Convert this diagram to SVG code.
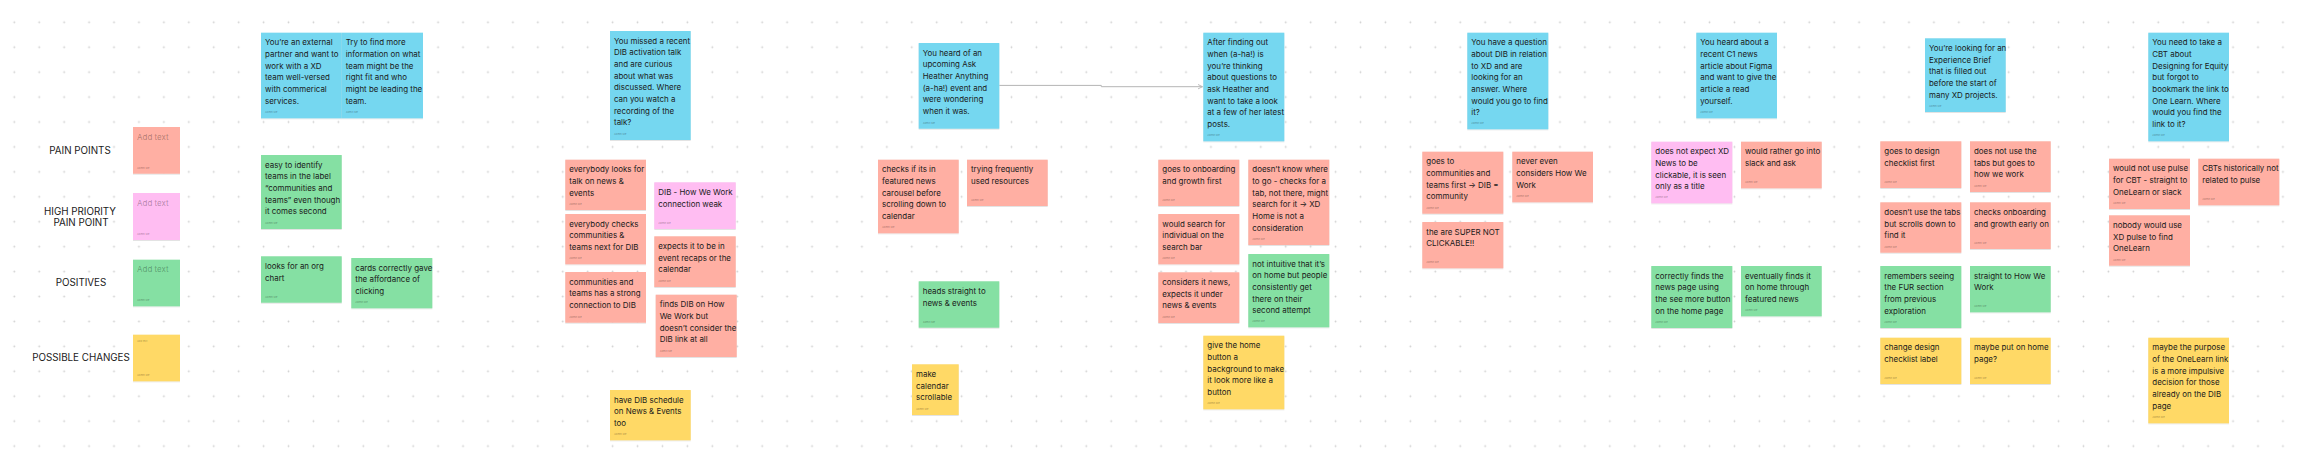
<svg xmlns="http://www.w3.org/2000/svg" width="2304" height="462" viewBox="0 0 2304 462">
<defs>
<pattern id="dots" patternUnits="userSpaceOnUse" x="1.83" y="9.83" width="24.93" height="24.93"><circle cx="12.47" cy="12.47" r="0.9" fill="#cfcfcf"/></pattern>
<filter id="sh" x="-10%" y="-10%" width="120%" height="130%"><feDropShadow dx="0" dy="0.6" stdDeviation="0.6" flood-color="#000" flood-opacity="0.18"/></filter>
<marker id="arr" viewBox="0 0 6 6" refX="5.5" refY="3" markerWidth="6" markerHeight="6" orient="auto" markerUnits="userSpaceOnUse"><path d="M1 0.8 L5.5 3 L1 5.2" fill="none" stroke="#b5b5b5" stroke-width="0.9"/></marker>
</defs>
<style>
.bl{fill:#75D7F0;filter:url(#sh)}
.rd{fill:#FFAFA3;filter:url(#sh)}
.gr{fill:#85E0A3;filter:url(#sh)}
.pk{fill:#FFBDF2;filter:url(#sh)}
.yl{fill:#FFD966;filter:url(#sh)}
.t{font-family:Inter,"Noto Sans",sans-serif;font-size:7.95px;fill:#1a1a1a}
.a{font-family:Inter,"Noto Sans",sans-serif;font-size:2.6px;fill:#000;fill-opacity:0.4}
.ph{font-family:Inter,"Noto Sans",sans-serif;font-size:8px;fill:#000;fill-opacity:0.3}
.lbl{font-family:Inter,"Noto Sans",sans-serif;font-size:9.8px;fill:#1a1a1a;text-anchor:middle}
.cn{fill:none;stroke:#b5b5b5;stroke-width:1}
</style>
<rect width="2304" height="462" fill="#ffffff"/>
<rect width="2304" height="462" fill="url(#dots)"/>

<g id="labels">
<text class="lbl" x="80" y="153.5">PAIN POINTS</text>
<text class="lbl" x="80" y="215">HIGH PRIORITY</text>
<text class="lbl" x="81" y="226.3">PAIN POINT</text>
<text class="lbl" x="81" y="286.3">POSITIVES</text>
<text class="lbl" x="81" y="361">POSSIBLE CHANGES</text>
</g>

<g id="connectors">
<path class="cn" d="M999.3 85.4 H1101.3 V86.7 H1202.5" marker-end="url(#arr)"/>
</g>

<g id="ph-pain"><rect class="rd" x="133" y="127" width="47" height="46.7"/><text class="ph" x="137" y="139.6">Add text</text><text class="a" x="137" y="168.7">Admin Me</text></g>
<g id="ph-high"><rect class="pk" x="133" y="193" width="47" height="47"/><text class="ph" x="137" y="205.6">Add text</text><text class="a" x="137" y="235">Admin Me</text></g>
<g id="ph-pos"><rect class="gr" x="133" y="259.7" width="47" height="46.6"/><text class="ph" x="137" y="272.3">Add text</text><text class="a" x="137" y="301.3">Admin Me</text></g>
<g id="ph-chg"><rect class="yl" x="133" y="334.7" width="47" height="46.6"/><text class="a" x="137" y="341.6">Add text</text><text class="a" x="137" y="376.3">Admin Me</text></g>

<g id="b1"><rect class="bl" x="261" y="32.7" width="80.7" height="85.6"/><text class="t"><tspan x="265" y="45.2">You’re an external</tspan><tspan x="265" y="56.9">partner and want to</tspan><tspan x="265" y="68.5">work with a XD</tspan><tspan x="265" y="80.2">team well-versed</tspan><tspan x="265" y="91.9">with commerical</tspan><tspan x="265" y="103.6">services.</tspan></text><text class="a" x="265" y="113.3">Admin Me</text></g>
<g id="b2"><rect class="bl" x="341.7" y="32.7" width="81.3" height="85.6"/><text class="t"><tspan x="345.7" y="45.2">Try to find more</tspan><tspan x="345.7" y="56.9">information on what</tspan><tspan x="345.7" y="68.5">team might be the</tspan><tspan x="345.7" y="80.2">right fit and who</tspan><tspan x="345.7" y="91.9">might be leading the</tspan><tspan x="345.7" y="103.6">team.</tspan></text><text class="a" x="345.7" y="113.3">Admin Me</text></g>
<g id="g1"><rect class="gr" x="261" y="155" width="80.7" height="74"/><text class="t"><tspan x="265" y="167.5">easy to identify</tspan><tspan x="265" y="179.2">teams in the label</tspan><tspan x="265" y="190.8">“communities and</tspan><tspan x="265" y="202.5">teams” even though</tspan><tspan x="265" y="214.2">it comes second</tspan></text><text class="a" x="265" y="224">Admin Me</text></g>
<g id="g2"><rect class="gr" x="261" y="256.3" width="80.7" height="46.4"/><text class="t"><tspan x="265" y="268.8">looks for an org</tspan><tspan x="265" y="280.5">chart</tspan></text><text class="a" x="265" y="297.7">Admin Me</text></g>
<g id="g3"><rect class="gr" x="351.3" y="258" width="81" height="50.3"/><text class="t"><tspan x="355.3" y="270.5">cards correctly gave</tspan><tspan x="355.3" y="282.2">the affordance of</tspan><tspan x="355.3" y="293.8">clicking</tspan></text><text class="a" x="355.3" y="303.3">Admin Me</text></g>

<g id="s1"><rect class="rd" x="565.3" y="159.7" width="80.7" height="50.3"/><text class="t"><tspan x="569.3" y="172.2">everybody looks for</tspan><tspan x="569.3" y="183.9">talk on news &amp;</tspan><tspan x="569.3" y="195.5">events</tspan></text><text class="a" x="569.3" y="205">Admin Me</text></g>
<g id="s2"><rect class="rd" x="565.3" y="214" width="80.7" height="50.3"/><text class="t"><tspan x="569.3" y="226.5">everybody checks</tspan><tspan x="569.3" y="238.2">communities &amp;</tspan><tspan x="569.3" y="249.8">teams next for DIB</tspan></text><text class="a" x="569.3" y="259.3">Admin Me</text></g>
<g id="s3"><rect class="rd" x="565.3" y="272" width="80.7" height="50.7"/><text class="t"><tspan x="569.3" y="284.5">communities and</tspan><tspan x="569.3" y="296.2">teams has a strong</tspan><tspan x="569.3" y="307.8">connection to DIB</tspan></text><text class="a" x="569.3" y="317.7">Admin Me</text></g>
<g id="b3"><rect class="bl" x="610" y="31" width="80.7" height="109"/><text class="t"><tspan x="614" y="43.5">You missed a recent</tspan><tspan x="614" y="55.2">DIB activation talk</tspan><tspan x="614" y="66.8">and are curious</tspan><tspan x="614" y="78.5">about what was</tspan><tspan x="614" y="90.2">discussed. Where</tspan><tspan x="614" y="101.9">can you watch a</tspan><tspan x="614" y="113.5">recording of the</tspan><tspan x="614" y="125.2">talk?</tspan></text><text class="a" x="614" y="135">Admin Me</text></g>
<g id="k1"><rect class="pk" x="654.3" y="182.3" width="81.4" height="46.7"/><text class="t"><tspan x="658.3" y="194.8">DIB - How We Work</tspan><tspan x="658.3" y="206.5">connection weak</tspan></text><text class="a" x="658.3" y="224">Admin Me</text></g>
<g id="s4"><rect class="rd" x="654.3" y="236.3" width="81.4" height="50.7"/><text class="t"><tspan x="658.3" y="248.8">expects it to be in</tspan><tspan x="658.3" y="260.5">event recaps or the</tspan><tspan x="658.3" y="272.1">calendar</tspan></text><text class="a" x="658.3" y="282">Admin Me</text></g>
<g id="s5"><rect class="rd" x="655.7" y="294.7" width="81" height="62.3"/><text class="t"><tspan x="659.7" y="307.2">finds DIB on How</tspan><tspan x="659.7" y="318.9">We Work but</tspan><tspan x="659.7" y="330.5">doesn’t consider the</tspan><tspan x="659.7" y="342.2">DIB link at all</tspan></text><text class="a" x="659.7" y="352">Admin Me</text></g>
<g id="y1"><rect class="yl" x="610" y="390" width="80.7" height="50.3"/><text class="t"><tspan x="614" y="402.5">have DIB schedule</tspan><tspan x="614" y="414.2">on News &amp; Events</tspan><tspan x="614" y="425.8">too</tspan></text><text class="a" x="614" y="435.3">Admin Me</text></g>

<g id="b4"><rect class="bl" x="918.7" y="43" width="80.6" height="85.7"/><text class="t"><tspan x="922.7" y="55.5">You heard of an</tspan><tspan x="922.7" y="67.2">upcoming Ask</tspan><tspan x="922.7" y="78.8">Heather Anything</tspan><tspan x="922.7" y="90.5">(a-ha!) event and</tspan><tspan x="922.7" y="102.2">were wondering</tspan><tspan x="922.7" y="113.9">when it was.</tspan></text><text class="a" x="922.7" y="123.7">Admin Me</text></g>
<g id="s6"><rect class="rd" x="878" y="159.7" width="80.7" height="73.6"/><text class="t"><tspan x="882" y="172.2">checks if its in</tspan><tspan x="882" y="183.9">featured news</tspan><tspan x="882" y="195.5">carousel before</tspan><tspan x="882" y="207.2">scrolling down to</tspan><tspan x="882" y="218.9">calendar</tspan></text><text class="a" x="882" y="228.3">Admin Me</text></g>
<g id="s7"><rect class="rd" x="967" y="159.7" width="80.7" height="46.3"/><text class="t"><tspan x="971" y="172.2">trying frequently</tspan><tspan x="971" y="183.9">used resources</tspan></text><text class="a" x="971" y="201">Admin Me</text></g>
<g id="g4"><rect class="gr" x="918.7" y="281.3" width="80.6" height="46.4"/><text class="t"><tspan x="922.7" y="293.8">heads straight to</tspan><tspan x="922.7" y="305.5">news &amp; events</tspan></text><text class="a" x="922.7" y="322.7">Admin Me</text></g>
<g id="y2"><rect class="yl" x="912" y="364.3" width="46.7" height="50.7"/><text class="t"><tspan x="916" y="376.8">make</tspan><tspan x="916" y="388.5">calendar</tspan><tspan x="916" y="400.1">scrollable</tspan></text><text class="a" x="916" y="410">Admin Me</text></g>

<g id="b5"><rect class="bl" x="1203.3" y="32.7" width="81" height="108.6"/><text class="t"><tspan x="1207.3" y="45.2">After finding out</tspan><tspan x="1207.3" y="56.9">when (a-ha!) is</tspan><tspan x="1207.3" y="68.5">you’re thinking</tspan><tspan x="1207.3" y="80.2">about questions to</tspan><tspan x="1207.3" y="91.9">ask Heather and</tspan><tspan x="1207.3" y="103.6">want to take a look</tspan><tspan x="1207.3" y="115.2">at a few of her latest</tspan><tspan x="1207.3" y="126.9">posts.</tspan></text><text class="a" x="1207.3" y="136.3">Admin Me</text></g>
<g id="s8"><rect class="rd" x="1158.3" y="159.7" width="81" height="46.3"/><text class="t"><tspan x="1162.3" y="172.2">goes to onboarding</tspan><tspan x="1162.3" y="183.9">and growth first</tspan></text><text class="a" x="1162.3" y="201">Admin Me</text></g>
<g id="s9"><rect class="rd" x="1158.3" y="214" width="81" height="50.3"/><text class="t"><tspan x="1162.3" y="226.5">would search for</tspan><tspan x="1162.3" y="238.2">individual on the</tspan><tspan x="1162.3" y="249.8">search bar</tspan></text><text class="a" x="1162.3" y="259.3">Admin Me</text></g>
<g id="s10"><rect class="rd" x="1158.3" y="272.3" width="81" height="50.7"/><text class="t"><tspan x="1162.3" y="284.8">considers it news,</tspan><tspan x="1162.3" y="296.5">expects it under</tspan><tspan x="1162.3" y="308.1">news &amp; events</tspan></text><text class="a" x="1162.3" y="318">Admin Me</text></g>
<g id="s11"><rect class="rd" x="1248.3" y="159.7" width="81" height="85.3"/><text class="t"><tspan x="1252.3" y="172.2">doesn’t know where</tspan><tspan x="1252.3" y="183.9">to go - checks for a</tspan><tspan x="1252.3" y="195.5">tab, not there, might</tspan><tspan x="1252.3" y="207.2">search for it → XD</tspan><tspan x="1252.3" y="218.9">Home is not a</tspan><tspan x="1252.3" y="230.6">consideration</tspan></text><text class="a" x="1252.3" y="240">Admin Me</text></g>
<g id="g5"><rect class="gr" x="1248.3" y="254" width="81" height="73.3"/><text class="t"><tspan x="1252.3" y="266.5">not intuitive that it’s</tspan><tspan x="1252.3" y="278.2">on home but people</tspan><tspan x="1252.3" y="289.8">consistently get</tspan><tspan x="1252.3" y="301.5">there on their</tspan><tspan x="1252.3" y="313.2">second attempt</tspan></text><text class="a" x="1252.3" y="322.3">Admin Me</text></g>
<g id="y3"><rect class="yl" x="1203.3" y="335.7" width="81" height="73.6"/><text class="t"><tspan x="1207.3" y="348.2">give the home</tspan><tspan x="1207.3" y="359.9">button a</tspan><tspan x="1207.3" y="371.5">background to make</tspan><tspan x="1207.3" y="383.2">it look more like a</tspan><tspan x="1207.3" y="394.9">button</tspan></text><text class="a" x="1207.3" y="404.3">Admin Me</text></g>

<g id="s12"><rect class="rd" x="1422.3" y="151.7" width="81" height="62"/><text class="t"><tspan x="1426.3" y="164.2">goes to</tspan><tspan x="1426.3" y="175.9">communities and</tspan><tspan x="1426.3" y="187.5">teams first → DIB =</tspan><tspan x="1426.3" y="199.2">community</tspan></text><text class="a" x="1426.3" y="208.7">Admin Me</text></g>
<g id="s13"><rect class="rd" x="1422.3" y="222" width="81" height="46.3"/><text class="t"><tspan x="1426.3" y="234.5">the are SUPER NOT</tspan><tspan x="1426.3" y="246.2">CLICKABLE!!</tspan></text><text class="a" x="1426.3" y="263.3">Admin Me</text></g>
<g id="b6"><rect class="bl" x="1467.3" y="32.7" width="81" height="96.6"/><text class="t"><tspan x="1471.3" y="45.2">You have a question</tspan><tspan x="1471.3" y="56.9">about DIB in relation</tspan><tspan x="1471.3" y="68.5">to XD and are</tspan><tspan x="1471.3" y="80.2">looking for an</tspan><tspan x="1471.3" y="91.9">answer. Where</tspan><tspan x="1471.3" y="103.6">would you go to find</tspan><tspan x="1471.3" y="115.2">it?</tspan></text><text class="a" x="1471.3" y="124.3">Admin Me</text></g>
<g id="s14"><rect class="rd" x="1512.3" y="151.7" width="80.7" height="50.6"/><text class="t"><tspan x="1516.3" y="164.2">never even</tspan><tspan x="1516.3" y="175.9">considers How We</tspan><tspan x="1516.3" y="187.5">Work</tspan></text><text class="a" x="1516.3" y="197.3">Admin Me</text></g>

<g id="b7"><rect class="bl" x="1696.3" y="32.7" width="80.7" height="85.6"/><text class="t"><tspan x="1700.3" y="45.2">You heard about a</tspan><tspan x="1700.3" y="56.9">recent C1 news</tspan><tspan x="1700.3" y="68.5">article about Figma</tspan><tspan x="1700.3" y="80.2">and want to give the</tspan><tspan x="1700.3" y="91.9">article a read</tspan><tspan x="1700.3" y="103.6">yourself.</tspan></text><text class="a" x="1700.3" y="113.3">Admin Me</text></g>
<g id="k2"><rect class="pk" x="1651.3" y="141.7" width="81" height="61.6"/><text class="t"><tspan x="1655.3" y="154.2">does not expect XD</tspan><tspan x="1655.3" y="165.9">News to be</tspan><tspan x="1655.3" y="177.5">clickable, it is seen</tspan><tspan x="1655.3" y="189.2">only as a title</tspan></text><text class="a" x="1655.3" y="198.3">Admin Me</text></g>
<g id="s15"><rect class="rd" x="1741" y="141.7" width="80.7" height="46.6"/><text class="t"><tspan x="1745" y="154.2">would rather go into</tspan><tspan x="1745" y="165.9">slack and ask</tspan></text><text class="a" x="1745" y="183.3">Admin Me</text></g>
<g id="g6"><rect class="gr" x="1651.3" y="266" width="81" height="62"/><text class="t"><tspan x="1655.3" y="278.5">correctly finds the</tspan><tspan x="1655.3" y="290.2">news page using</tspan><tspan x="1655.3" y="301.8">the see more button</tspan><tspan x="1655.3" y="313.5">on the home page</tspan></text><text class="a" x="1655.3" y="323">Admin Me</text></g>
<g id="g7"><rect class="gr" x="1741" y="266" width="80.7" height="50.3"/><text class="t"><tspan x="1745" y="278.5">eventually finds it</tspan><tspan x="1745" y="290.2">on home through</tspan><tspan x="1745" y="301.8">featured news</tspan></text><text class="a" x="1745" y="311.3">Admin Me</text></g>

<g id="b8"><rect class="bl" x="1925" y="38.3" width="80.7" height="73.7"/><text class="t"><tspan x="1929" y="50.8">You’re looking for an</tspan><tspan x="1929" y="62.5">Experience Brief</tspan><tspan x="1929" y="74.1">that is filled out</tspan><tspan x="1929" y="85.8">before the start of</tspan><tspan x="1929" y="97.5">many XD projects.</tspan></text><text class="a" x="1929" y="107">Admin Me</text></g>
<g id="s16"><rect class="rd" x="1880.3" y="141.3" width="81" height="46.7"/><text class="t"><tspan x="1884.3" y="153.8">goes to design</tspan><tspan x="1884.3" y="165.5">checklist first</tspan></text><text class="a" x="1884.3" y="183">Admin Me</text></g>
<g id="s17"><rect class="rd" x="1970" y="141.3" width="80.7" height="50.7"/><text class="t"><tspan x="1974" y="153.8">does not use the</tspan><tspan x="1974" y="165.5">tabs but goes to</tspan><tspan x="1974" y="177.1">how we work</tspan></text><text class="a" x="1974" y="187">Admin Me</text></g>
<g id="s18"><rect class="rd" x="1880.3" y="202.3" width="81" height="50.4"/><text class="t"><tspan x="1884.3" y="214.8">doesn’t use the tabs</tspan><tspan x="1884.3" y="226.5">but scrolls down to</tspan><tspan x="1884.3" y="238.1">find it</tspan></text><text class="a" x="1884.3" y="247.7">Admin Me</text></g>
<g id="s19"><rect class="rd" x="1970" y="202.3" width="80.7" height="46.7"/><text class="t"><tspan x="1974" y="214.8">checks onboarding</tspan><tspan x="1974" y="226.5">and growth early on</tspan></text><text class="a" x="1974" y="244">Admin Me</text></g>
<g id="g8"><rect class="gr" x="1880.3" y="266" width="81" height="62"/><text class="t"><tspan x="1884.3" y="278.5">remembers seeing</tspan><tspan x="1884.3" y="290.2">the FUR section</tspan><tspan x="1884.3" y="301.8">from previous</tspan><tspan x="1884.3" y="313.5">exploration</tspan></text><text class="a" x="1884.3" y="323">Admin Me</text></g>
<g id="g9"><rect class="gr" x="1970" y="266" width="80.7" height="46.3"/><text class="t"><tspan x="1974" y="278.5">straight to How We</tspan><tspan x="1974" y="290.2">Work</tspan></text><text class="a" x="1974" y="307.3">Admin Me</text></g>
<g id="y4"><rect class="yl" x="1880.3" y="337.7" width="81" height="46.3"/><text class="t"><tspan x="1884.3" y="350.2">change design</tspan><tspan x="1884.3" y="361.9">checklist label</tspan></text><text class="a" x="1884.3" y="379">Admin Me</text></g>
<g id="y5"><rect class="yl" x="1970" y="337.7" width="80.7" height="46.3"/><text class="t"><tspan x="1974" y="350.2">maybe put on home</tspan><tspan x="1974" y="361.9">page?</tspan></text><text class="a" x="1974" y="379">Admin Me</text></g>

<g id="b9"><rect class="bl" x="2148.3" y="32.7" width="80.7" height="108.6"/><text class="t"><tspan x="2152.3" y="45.2">You need to take a</tspan><tspan x="2152.3" y="56.9">CBT about</tspan><tspan x="2152.3" y="68.5">Designing for Equity</tspan><tspan x="2152.3" y="80.2">but forgot to</tspan><tspan x="2152.3" y="91.9">bookmark the link to</tspan><tspan x="2152.3" y="103.6">One Learn. Where</tspan><tspan x="2152.3" y="115.2">would you find the</tspan><tspan x="2152.3" y="126.9">link to it?</tspan></text><text class="a" x="2152.3" y="136.3">Admin Me</text></g>
<g id="s20"><rect class="rd" x="2109" y="158.7" width="81" height="50.3"/><text class="t"><tspan x="2113" y="171.2">would not use pulse</tspan><tspan x="2113" y="182.9">for CBT - straight to</tspan><tspan x="2113" y="194.5">OneLearn or slack</tspan></text><text class="a" x="2113" y="204">Admin Me</text></g>
<g id="s21"><rect class="rd" x="2198.3" y="158.7" width="81" height="46.6"/><text class="t"><tspan x="2202.3" y="171.2">CBTs historically not</tspan><tspan x="2202.3" y="182.9">related to pulse</tspan></text><text class="a" x="2202.3" y="200.3">Admin Me</text></g>
<g id="s22"><rect class="rd" x="2109" y="215.3" width="81" height="50.4"/><text class="t"><tspan x="2113" y="227.8">nobody would use</tspan><tspan x="2113" y="239.5">XD pulse to find</tspan><tspan x="2113" y="251.1">OneLearn</tspan></text><text class="a" x="2113" y="260.7">Admin Me</text></g>
<g id="y6"><rect class="yl" x="2148.3" y="337.7" width="80.7" height="85.6"/><text class="t"><tspan x="2152.3" y="350.2">maybe the purpose</tspan><tspan x="2152.3" y="361.9">of the OneLearn link</tspan><tspan x="2152.3" y="373.5">is a more impulsive</tspan><tspan x="2152.3" y="385.2">decision for those</tspan><tspan x="2152.3" y="396.9">already on the DIB</tspan><tspan x="2152.3" y="408.6">page</tspan></text><text class="a" x="2152.3" y="418.3">Admin Me</text></g>
</svg>
